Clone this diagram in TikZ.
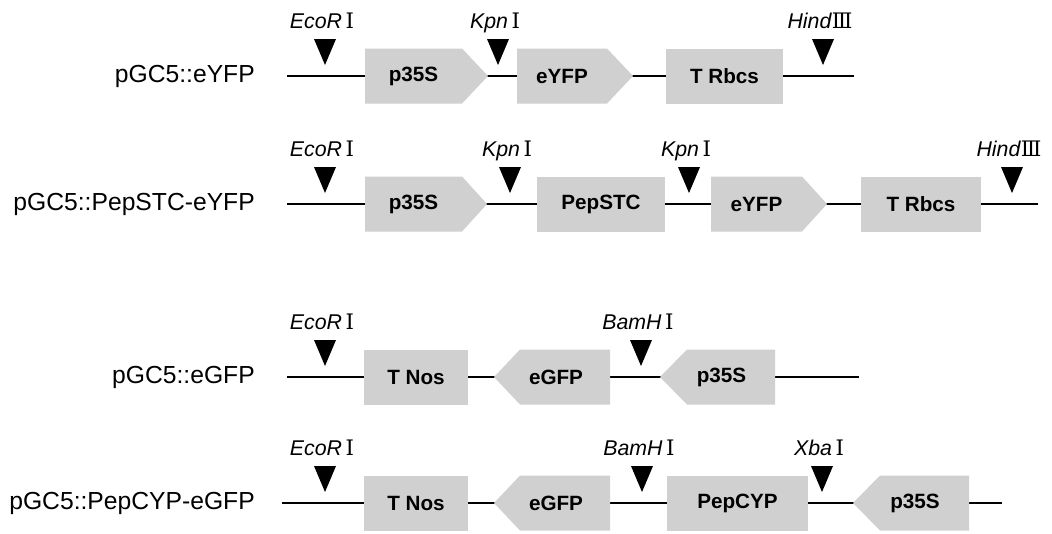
\documentclass[tikz,border=0pt]{standalone}
\usepackage{fontspec}
\setmainfont{Liberation Sans}
\newfontfamily\numeralfont{DejaVu Serif}
\definecolor{boxgray}{RGB}{208,208,208}
\tikzset{
  backbone/.style={line width=1.1pt},
  boxfill/.style={fill=boxgray},
  boxtext/.style={font=\fontsize{15.5}{18}\selectfont\bfseries, inner sep=0pt},
  rowlabel/.style={font=\fontsize{18.5}{21}\selectfont, anchor=east, inner sep=0pt},
  sitelabel/.style={font=\fontsize{16}{18}\selectfont, anchor=base, inner sep=0pt},
}
% plain rectangular element: name, left, right, line y, label
\newcommand\geneRect[5]{%
  \fill[boxfill] (#2,#4-27.5) rectangle (#3,#4+27.5);
  \node[boxtext] (#1) at ({(#2+#3)/2},#4) {#5};}
% element pointing right: name, left, shoulder, tip, line y, label
\newcommand\geneFwd[6]{%
  \fill[boxfill] (#2,#5-27.5) -- (#3,#5-27.5) -- (#4,#5) -- (#3,#5+27.5) -- (#2,#5+27.5) -- cycle;
  \node[boxtext] (#1) at ({(#2+#3)/2},#5) {#6};}
% element pointing left: name, tip, shoulder, right, line y, label
\newcommand\geneRev[6]{%
  \fill[boxfill] (#2,#5) -- (#3,#5-27.5) -- (#4,#5-27.5) -- (#4,#5+27.5) -- (#3,#5+27.5) -- cycle;
  \node[boxtext] (#1) at ({(#2+#4)/2+4},#5) {#6};}
% restriction site marker: name, x, line y, label text
\newcommand\siteMark[4]{%
  \fill (#2-11,#3-37) -- (#2+11,#3-37) -- (#2,#3-11) -- cycle;
  \node[sitelabel] (#1) at (#2-3,#3-48) {#4};}
\newcommand\enz[2]{\textit{#1}\,{\numeralfont #2}}

\begin{document}
\begin{tikzpicture}[x=0.75pt,y=-0.75pt]
\useasboundingbox (0,0) rectangle (1052,533);

% ---------- pGC5::eYFP ----------
\node[rowlabel] (lab1) at (255,76) {pGC5::eYFP};
\coordinate (r1a) at (287,76);
\coordinate (r1b) at (854,76);
\draw[backbone] (r1a) -- (r1b);
\geneFwd{a35S}{365}{462}{488}{76}{p35S}
\geneFwd{aYFP}{517}{607}{633}{76}{eYFP}
\geneRect{aRbcs}{666}{783}{76}{T Rbcs}
\siteMark{aEco}{325}{76}{\enz{EcoR}{Ⅰ}}
\siteMark{aKpn}{498}{76}{\enz{Kpn}{Ⅰ}}
\siteMark{aHind}{823}{76}{\textit{Hind}{\numeralfont Ⅲ}}

% ---------- pGC5::PepSTC-eYFP ----------
\node[rowlabel] (lab2) at (255,204) {pGC5::PepSTC-eYFP};
\coordinate (r2a) at (287,204);
\coordinate (r2b) at (1038,204);
\draw[backbone] (r2a) -- (r2b);
\geneFwd{b35S}{365}{462}{487}{204}{p35S}
\geneRect{bSTC}{537}{665}{204}{PepSTC}
\geneFwd{bYFP}{711}{802}{827}{204}{eYFP}
\geneRect{bRbcs}{861}{981}{204}{T Rbcs}
\siteMark{bEco}{325}{204}{\enz{EcoR}{Ⅰ}}
\siteMark{bKpnA}{510}{204}{\enz{Kpn}{Ⅰ}}
\siteMark{bKpnB}{689}{204}{\enz{Kpn}{Ⅰ}}
\siteMark{bHind}{1012}{204}{\textit{Hind}{\numeralfont Ⅲ}}

% ---------- pGC5::eGFP ----------
\node[rowlabel] (lab3) at (255,377) {pGC5::eGFP};
\coordinate (r3a) at (287,377);
\coordinate (r3b) at (859,377);
\draw[backbone] (r3a) -- (r3b);
\geneRect{cNos}{364}{468}{377}{T Nos}
\geneRev{cGFP}{494}{520}{610}{377}{eGFP}
\geneRev{c35S}{660}{687}{775}{377}{p35S}
\siteMark{cEco}{325}{377}{\enz{EcoR}{Ⅰ}}
\siteMark{cBam}{641}{377}{\enz{BamH}{Ⅰ}}

% ---------- pGC5::PepCYP-eGFP ----------
\node[rowlabel] (lab4) at (255,503) {pGC5::PepCYP-eGFP};
\coordinate (r4a) at (282,503);
\coordinate (r4b) at (1002,503);
\draw[backbone] (r4a) -- (r4b);
\geneRect{dNos}{364}{468}{503}{T Nos}
\geneRev{dGFP}{494}{520}{610}{503}{eGFP}
\geneRect{dCYP}{667}{808}{503}{PepCYP}
\geneRev{d35S}{853}{880}{969}{503}{p35S}
\siteMark{dEco}{325}{503}{\enz{EcoR}{Ⅰ}}
\siteMark{dBam}{642}{503}{\enz{BamH}{Ⅰ}}
\siteMark{dXba}{822}{503}{\enz{Xba}{Ⅰ}}
\end{tikzpicture}
\end{document}
